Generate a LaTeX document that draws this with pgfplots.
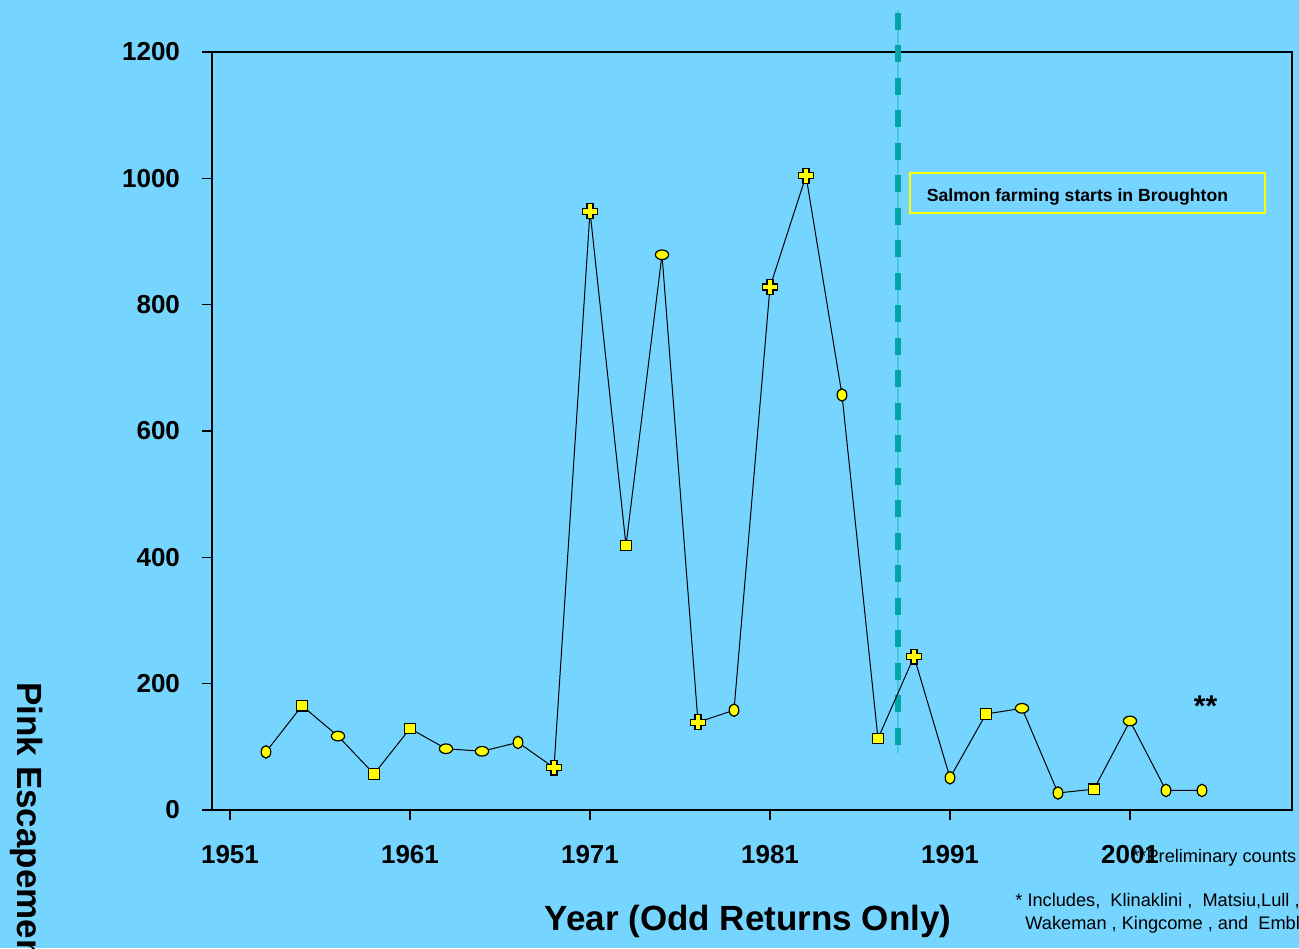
\documentclass[border=0pt]{standalone}
\usepackage{pgfplots}
\pgfplotsset{compat=1.18}
\usepackage{fontspec}
\setmainfont{Liberation Sans}
\definecolor{bg}{RGB}{118,213,255}
\definecolor{tealdash}{RGB}{0,166,166}
\definecolor{tealthin}{RGB}{70,200,225}
\definecolor{mkfill}{RGB}{255,255,0}
\definecolor{leftax}{RGB}{60,80,95}

\pgfdeclareplotmark{vell}{\pgfpathellipse{\pgfpointorigin}{\pgfpoint{2.4pt}{0pt}}{\pgfpoint{0pt}{3.1pt}}\pgfusepathqfillstroke}
\pgfdeclareplotmark{hell}{\pgfpathellipse{\pgfpointorigin}{\pgfpoint{3.3pt}{0pt}}{\pgfpoint{0pt}{2.4pt}}\pgfusepathqfillstroke}
\pgfdeclareplotmark{fplus}{%
  \pgfpathmoveto{\pgfpoint{-1.5pt}{3.7pt}}%
  \pgfpathlineto{\pgfpoint{1.5pt}{3.7pt}}%
  \pgfpathlineto{\pgfpoint{1.5pt}{1.5pt}}%
  \pgfpathlineto{\pgfpoint{3.7pt}{1.5pt}}%
  \pgfpathlineto{\pgfpoint{3.7pt}{-1.5pt}}%
  \pgfpathlineto{\pgfpoint{1.5pt}{-1.5pt}}%
  \pgfpathlineto{\pgfpoint{1.5pt}{-3.7pt}}%
  \pgfpathlineto{\pgfpoint{-1.5pt}{-3.7pt}}%
  \pgfpathlineto{\pgfpoint{-1.5pt}{-1.5pt}}%
  \pgfpathlineto{\pgfpoint{-3.7pt}{-1.5pt}}%
  \pgfpathlineto{\pgfpoint{-3.7pt}{1.5pt}}%
  \pgfpathlineto{\pgfpoint{-1.5pt}{1.5pt}}%
  \pgfpathclose\pgfusepathqfillstroke}

\begin{document}
\begin{tikzpicture}
\fill[bg] (-106pt,-69pt) rectangle (543.5pt,405pt);
\useasboundingbox (-106pt,-69pt) rectangle (543.5pt,405pt);
\clip (-106pt,-69pt) rectangle (543.5pt,405pt);
\begin{axis}[
  scale only axis, width=540pt, height=379pt,
  xmin=1950, xmax=2010, ymin=0, ymax=1200,
  xtick={1951,1961,1971,1981,1991,2001},
  ytick={0,200,400,600,800,1000,1200},
  /pgf/number format/1000 sep={},
  /pgf/number format/assume math mode=true,
  tick align=outside, tick pos=left, major tick length=5pt,
  tick style={black, line width=0.6pt},
  axis line style={black, line width=0.6pt},
  ticklabel style={font=\fontsize{13}{15}\selectfont\bfseries},
  xticklabel style={yshift=-9pt},
  yticklabel style={xshift=-7.5pt},
  clip=false,
]
% dashed marker line (salmon farming start)
\addplot[tealthin, line width=1.2pt, mark=none] coordinates {(1988.11,1266) (1988.11,90)};
\addplot[tealdash, line width=3pt, dash pattern=on 8.5pt off 7.75pt, mark=none] coordinates {(1988.11,1262) (1988.11,90)};

\addplot[black, line width=0.5pt, mark=none] coordinates {
(1953,92) (1955,165) (1957,117) (1959,57) (1961,129) (1963,97) (1965,93)
(1967,107) (1969,67) (1971,948) (1973,419) (1975,879) (1977,139) (1979,158)
(1981,828) (1983,1004) (1985,657) (1987,113) (1989,243) (1991,51) (1993,152)
(1995,161) (1997,27) (1999,33) (2001,141) (2003,31) (2005,31)};

\addplot[only marks, mark=vell, mark options={fill=mkfill, draw=black, line width=0.6pt}] coordinates {
(1953,92) (1967,107) (1979,158) (1985,657) (1991,51) (1997,27) (2003,31) (2005,31)};
\addplot[only marks, mark=hell, mark options={fill=mkfill, draw=black, line width=0.6pt}] coordinates {
(1957,117) (1963,97) (1965,93) (1975,879) (1995,161) (2001,141)};
\addplot[only marks, mark=square*, mark size=2.6pt, mark options={fill=mkfill, draw=black, line width=0.6pt}] coordinates {
(1955,165) (1959,57) (1961,129) (1973,419) (1987,113) (1993,152) (1999,33)};
\addplot[only marks, mark=fplus, mark options={fill=mkfill, draw=black, line width=0.6pt}] coordinates {
(1969,67) (1971,948) (1977,139) (1981,828) (1983,1004) (1989,243)};

\draw[mkfill, line width=0.8pt] (axis cs:1988.78,945.1) rectangle (axis cs:2008.5,1008.4);
\node[font=\fontsize{8.8}{10}\selectfont\bfseries, inner sep=0] at (axis cs:1998.08,971) {Salmon farming starts in Broughton};
\node[font=\fontsize{15}{17}\selectfont\bfseries, anchor=base, inner sep=0] at (axis cs:2005.2,148) {**};
\end{axis}
\node[rotate=-90, anchor=base west, inner sep=0, font=\fontsize{17.5}{20}\selectfont\bfseries] at (-97pt,64pt) {Pink Escapement*};
\node[anchor=base, inner sep=0, font=\fontsize{17.5}{20}\selectfont\bfseries] at (268pt,-60pt) {Year (Odd Returns Only)};
\node[anchor=base west, inner sep=0, font=\fontsize{9.1}{10}\selectfont] at (460pt,-26pt) {**Preliminary counts};
\node[anchor=base west, inner sep=0, font=\fontsize{9.1}{10}\selectfont] at (401.5pt,-48pt) {* Includes,\ \ Klinaklini ,\ \ Matsiu,Lull ,\ \ Kakweiken ,};
\node[anchor=base west, inner sep=0, font=\fontsize{9.1}{10}\selectfont] at (406.5pt,-59.5pt) {Wakeman , Kingcome , and\ \ Embley};
\end{tikzpicture}
\end{document}
